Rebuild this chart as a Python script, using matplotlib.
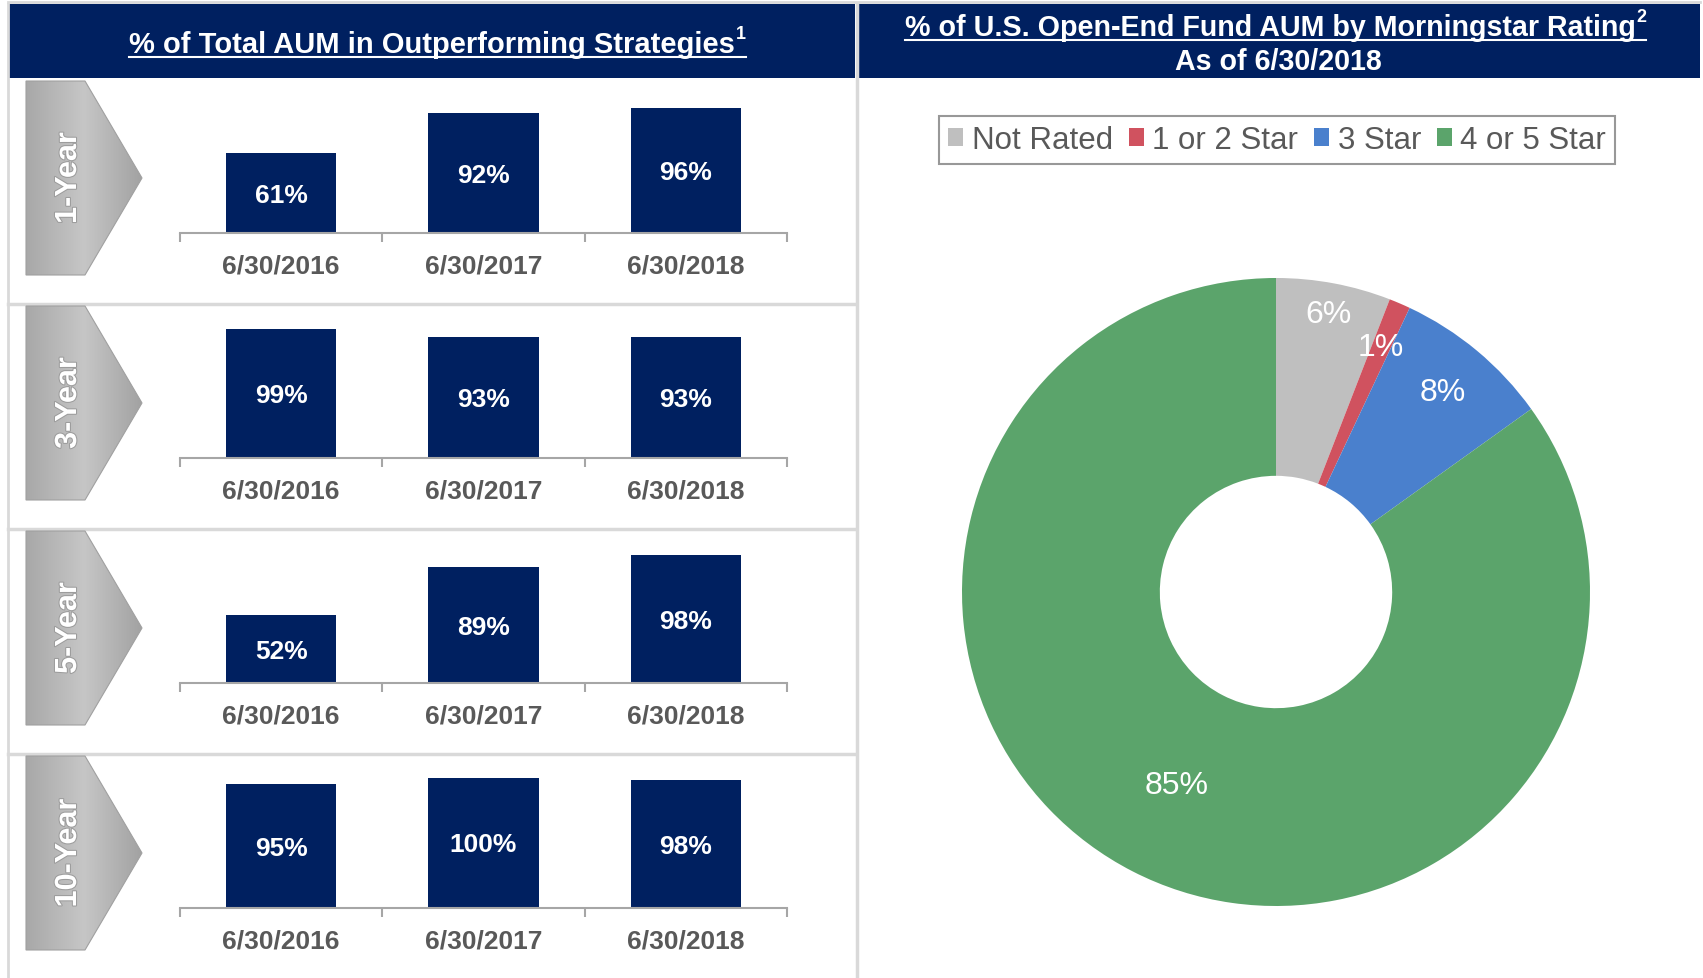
import matplotlib.pyplot as plt
import matplotlib.patches as mpatches
import matplotlib.patheffects as pe
from matplotlib.colors import LinearSegmentedColormap
import numpy as np

plt.rcParams['font.family'] = ['Liberation Sans', 'DejaVu Sans']

# data
periods = ['1-Year', '3-Year', '5-Year', '10-Year']
dates = ['6/30/2016', '6/30/2017', '6/30/2018']
pct_1yr = [61, 92, 96]
pct_3yr = [99, 93, 93]
pct_5yr = [52, 89, 98]
pct_10yr = [95, 100, 98]
rating_labels = ['Not Rated', '1 or 2 Star', '3 Star', '4 or 5 Star']
rating_share = [5.9, 1.1, 8.1, 84.9]
rating_colors = ['#bfbfbf', '#d0525f', '#4a80cd', '#5ba46b']

navy = '#002060'
sep_gray = '#d9d9d9'
txt_gray = '#595959'

W, H = 1703, 979
fig = plt.figure(figsize=(W / 100, H / 100), dpi=100)

# background axes in pixel units (y down)
bg = fig.add_axes([0, 0, 1, 1])
bg.set_xlim(0, W)
bg.set_ylim(H, 0)
bg.axis('off')

# header bands
bg.add_patch(mpatches.Rectangle((9, 5), 846, 74, color=navy, lw=0))
bg.add_patch(mpatches.Rectangle((858, 5), 842, 74, color=navy, lw=0))

# frame / separator lines
bg.plot([8, 1700], [3, 3], color=sep_gray, lw=2)
bg.plot([8, 8], [5, H], color=sep_gray, lw=2)
bg.plot([856.5, 856.5], [5, H], color=sep_gray, lw=2.5)
for k in range(1, 4):
    y = 80 + 225 * k
    bg.plot([8, 856], [y, y], color=sep_gray, lw=2.5)

t1 = bg.text(432, 53, '% of Total AUM in Outperforming Strategies', ha='center', va='baseline',
             color='white', fontsize=21, fontweight='bold')
t2 = bg.text(1270, 36, '% of U.S. Open-End Fund AUM by Morningstar Rating', ha='center', va='baseline',
             color='white', fontsize=20.6, fontweight='bold')
bg.text(1278, 70, 'As of 6/30/2018', ha='center', va='baseline', color='white', fontsize=20.6,
        fontweight='bold')

# chevrons
cm = LinearSegmentedColormap.from_list('chev', ['#a8a8a8', '#c6c6c6', '#a2a2a2'])
grad = np.linspace(0, 1, 200).reshape(1, -1)
for k, name in enumerate(periods):
    top = 82 + 225 * k
    bot = 276 + 225 * k
    mid = (top + bot) / 2
    poly = mpatches.Polygon([(26, top), (85, top), (142, mid), (85, bot), (26, bot)],
                            closed=True, fc='none', ec='#a0a0a0', lw=0.8, zorder=3)
    bg.add_patch(poly)
    im = bg.imshow(grad, extent=(26, 142, bot, top), cmap=cm, aspect='auto', zorder=2)
    im.set_clip_path(poly)
    bg.text(68, mid, name, rotation=90, ha='center', va='center', color='white', fontsize=22,
            fontweight='bold', zorder=4,
            path_effects=[pe.withStroke(linewidth=1.5, foreground='#9c9c9c')])
bg.set_xlim(0, W)
bg.set_ylim(H, 0)

# bar panels
for k, vals in enumerate([pct_1yr, pct_3yr, pct_5yr, pct_10yr]):
    base = 233.5 + 225 * k
    ax = fig.add_axes([180 / W, 1 - base / H, 607 / W, 143 / H])
    ax.patch.set_alpha(0)
    ax.bar(range(3), vals, width=0.545, color=navy)
    ax.set_xlim(-0.5, 2.5)
    ax.set_ylim(0, 110)
    for s in ['top', 'left', 'right']:
        ax.spines[s].set_visible(False)
    ax.spines['bottom'].set_color('#a6a6a6')
    ax.spines['bottom'].set_linewidth(1.5)
    ax.set_yticks([])
    ax.set_xticks(range(3))
    ax.set_xticklabels(dates, fontsize=19, fontweight='bold', color=txt_gray)
    ax.tick_params(axis='x', which='major', length=0, pad=15)
    ax.set_xticks([-0.5, 0.5, 1.5, 2.5], minor=True)
    ax.tick_params(axis='x', which='minor', length=6.5, width=1.5, color='#a6a6a6', direction='out')
    for i, v in enumerate(vals):
        ax.text(i, v / 2 - 1.5, f'{v}%', ha='center', va='center', color='white', fontsize=19,
                fontweight='bold')

# donut
R = 314
cx, cy = 1276, 593
pax = fig.add_axes([(cx - R) / W, 1 - (cy + R) / H, 2 * R / W, 2 * R / H])
wedges, _ = pax.pie(rating_share, colors=rating_colors, startangle=90, counterclock=False, radius=1,
                    wedgeprops=dict(width=0.63, linewidth=0))
pax.set_xlim(-1, 1)
pax.set_ylim(-1, 1)
label_r = [0.90, 0.85, 0.83, 0.69]
for w, v, r in zip(wedges, rating_share, label_r):
    a = np.deg2rad((w.theta1 + w.theta2) / 2)
    pax.text(r * np.cos(a), r * np.sin(a), f'{round(v)}%', ha='center', va='center',
             color='white', fontsize=23)

leg = pax.legend(wedges, rating_labels, ncol=4, loc='center', bbox_to_anchor=(1277 / W, 1 - 141 / H),
                 bbox_transform=fig.transFigure, fontsize=22.5, frameon=True, fancybox=False,
                 edgecolor='#7f7f7f', handlelength=0.49, handleheight=0.49, handletextpad=0.27,
                 columnspacing=0.5, borderpad=0.3, labelcolor=txt_gray)
leg.get_frame().set_linewidth(1.5)

# superscript footnote marks and underlines
fig.canvas.draw()
rend = fig.canvas.get_renderer()
bb = t1.get_window_extent(rend)
s1 = bg.text(bb.x1 + 1, 39, '1', ha='left', va='baseline', color='white', fontsize=13, fontweight='bold')
bb2 = t2.get_window_extent(rend)
s2 = bg.text(bb2.x1 + 1, 22, '2', ha='left', va='baseline', color='white', fontsize=13, fontweight='bold')
fig.canvas.draw()
e1 = s1.get_window_extent(rend)
e2 = s2.get_window_extent(rend)
bg.plot([bb.x0, e1.x1], [58, 58], color='white', lw=1.5)
bg.plot([bb2.x0, e2.x1], [41, 41], color='white', lw=1.5)

fig.savefig('out.png', dpi=100)
